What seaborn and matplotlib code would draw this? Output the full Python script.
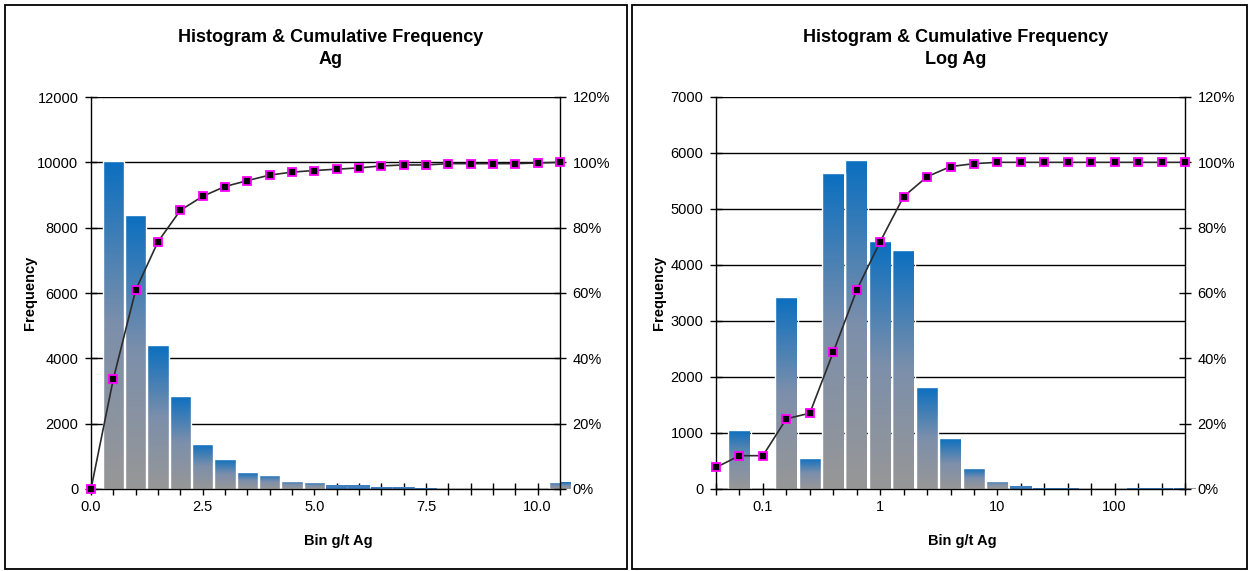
import numpy as np
import matplotlib
matplotlib.use("Agg")
import matplotlib.pyplot as plt
import seaborn as sns
from matplotlib.colors import LinearSegmentedColormap
from matplotlib.patches import Rectangle
from matplotlib.ticker import FixedLocator, NullFormatter

# ---- Ag, linear bins (g/t); the last bin collects everything above 10 ----
ag_bins = [0.0, 0.5, 1.0, 1.5, 2.0, 2.5, 3.0, 3.5, 4.0, 4.5, 5.0,
           5.5, 6.0, 6.5, 7.0, 7.5, 8.0, 8.5, 9.0, 9.5, 10.0, 10.5]
ag_counts = [0, 10050, 8400, 4400, 2850, 1380, 910, 510, 430, 255, 210,
             115, 115, 70, 70, 20, 15, 15, 15, 10, 10, 210]
ag_cum_pct = [0.0, 33.7, 60.9, 75.7, 85.3, 89.6, 92.6, 94.4, 96.1, 97.0, 97.5,
              97.9, 98.3, 98.9, 99.2, 99.2, 99.6, 99.6, 99.6, 99.6, 99.8, 100.0]
ag_tick_values = [0.0, 2.5, 5.0, 7.5, 10.0]
ag_tick_labels = ["0.0", "2.5", "5.0", "7.5", "10.0"]

# ---- Ag, logarithmic bins (g/t) ----
log_bins = [0.0398, 0.0631, 0.1, 0.1585, 0.2512, 0.3981, 0.631, 1.0, 1.585,
            2.512, 3.981, 6.31, 10.0, 15.85, 25.12, 39.81, 63.1, 100.0,
            158.5, 251.2, 398.1]
log_bar_bins = log_bins[1:]
log_counts = [1050, 0, 3430, 550, 5650, 5880, 4420, 4270, 1815, 905,
              370, 150, 45, 20, 20, 0, 0, 20, 20, 20]
log_cum_pct = [6.6, 10.2, 10.2, 21.5, 23.2, 41.9, 60.9, 75.7, 89.5, 95.6,
               98.7, 99.6, 100.0, 100.0, 100.0, 100.0, 100.0, 100.0, 100.0,
               100.0, 100.0]
log_tick_values = [0.1, 1.0, 10.0, 100.0]
log_tick_labels = ["0.1", "1", "10", "100"]

freq_ticks_ag = [0, 2000, 4000, 6000, 8000, 10000, 12000]
freq_ticks_log = [0, 1000, 2000, 3000, 4000, 5000, 6000, 7000]
pct_ticks = [0, 20, 40, 60, 80, 100, 120]

sns.set_theme(style="white")
plt.rcParams["font.family"] = ["Liberation Sans", "DejaVu Sans"]

W, H = 1249, 571
fig = plt.figure(figsize=(W / 100, H / 100), dpi=100)
fig.patch.set_facecolor("white")

bar_cmap = LinearSegmentedColormap.from_list("bar_fade", ["#979797", "#7C8FAB", "#0A6FC0"])
gradient = np.linspace(0, 1, 256).reshape(-1, 1)

TICK_FS = 10.5
LABEL_FS = 10.5
TITLE_FS = 13


def px_axes(x0, x1, y0, y1):
    return fig.add_axes([x0 / W, 1 - y1 / H, (x1 - x0) / W, (y1 - y0) / H])


def shade_bars(ax, ymax, height_px=392):
    for p in list(ax.patches):
        h = p.get_height()
        if h <= 0:
            p.set_visible(False)
            continue
        x0, w = p.get_x(), p.get_width()
        im = ax.imshow(gradient, cmap=bar_cmap, origin="lower", aspect="auto",
                       extent=[x0, x0 + w, 0, h], interpolation="bilinear", zorder=1.5)
        im.set_clip_path(p)
        bar_px = h / ymax * height_px
        if bar_px < 4:
            # very short bars: keep them as a plain blue sliver
            p.set_facecolor("#3F7FBF")
            p.set_linewidth(0)
        else:
            p.set_facecolor("none")
            p.set_edgecolor("white")
            p.set_linewidth(1.0)
        p.set_zorder(1.6)


def style_axes(ax, ax2, yticks, ymax):
    ax.set_ylim(0, ymax)
    ax.set_yticks(yticks)
    ax.set_yticklabels([str(v) for v in yticks])
    ax.set_axisbelow(True)
    ax.yaxis.grid(True, color="black", linewidth=1.0)
    ax.xaxis.grid(False)
    for side in ["top", "right"]:
        ax.spines[side].set_visible(False)
    for side in ["left", "bottom"]:
        ax.spines[side].set_color("black")
        ax.spines[side].set_linewidth(1.0)
    ax.tick_params(axis="both", which="both", direction="inout", length=8, width=1,
                   color="black", labelsize=TICK_FS, labelcolor="black")
    ax.tick_params(axis="y", pad=5)
    ax.tick_params(axis="x", pad=4)
    ax.tick_params(axis="x", which="both", bottom=True)
    ax.tick_params(axis="y", left=True)
    ax.set_xlabel("")
    ax.set_ylabel("")

    ax2.set_ylim(0, 1.2)
    ax2.set_yticks([v / 100 for v in pct_ticks])
    ax2.set_yticklabels([f"{v}%" for v in pct_ticks])
    for side in ["top", "left", "bottom"]:
        ax2.spines[side].set_visible(False)
    ax2.spines["right"].set_visible(True)
    ax2.spines["right"].set_color("black")
    ax2.spines["right"].set_linewidth(1.0)
    ax2.tick_params(axis="y", direction="inout", length=8, width=1, color="black",
                    labelsize=TICK_FS, labelcolor="black", pad=5, right=True)
    ax2.grid(False)
    ax2.set_xlabel("")
    ax2.set_ylabel("")


def cumulative_line(ax2, x, pct):
    sns.lineplot(x=x, y=np.asarray(pct) / 100, ax=ax2, color="#2b2b2b", linewidth=1.2,
                 marker="s", markersize=5.2, markerfacecolor="black",
                 markeredgecolor="#FF00FF", markeredgewidth=1.3, clip_on=False,
                 zorder=5, estimator=None, sort=False)


# ---------------- linear Ag panel ----------------
ax_a = px_axes(91, 560, 97, 489)
sns.histplot(x=ag_bins, weights=ag_counts, binwidth=0.5, binrange=(-0.25, 10.75),
             shrink=0.97, ax=ax_a, color="#0A6FC0", alpha=1, edgecolor="white",
             linewidth=1)
shade_bars(ax_a, 12000)
ax_a.set_xlim(0, 10.5)
ax_a.xaxis.set_major_locator(FixedLocator(ag_tick_values))
ax_a.set_xticklabels(ag_tick_labels)
ax_a.xaxis.set_minor_locator(FixedLocator(ag_bins))
ax_a.xaxis.set_minor_formatter(NullFormatter())
ax_a2 = ax_a.twinx()
cumulative_line(ax_a2, ag_bins, ag_cum_pct)
style_axes(ax_a, ax_a2, freq_ticks_ag, 12000)
ax_a.set_xlim(0, 10.5)
ax_a2.set_xlim(0, 10.5)

# ---------------- log Ag panel ----------------
ax_b = px_axes(716, 1185, 97, 489)
sns.histplot(x=log_bar_bins, weights=log_counts, log_scale=True, binwidth=0.2,
             binrange=(-1.3, 2.7), shrink=0.97, ax=ax_b, color="#0A6FC0", alpha=1,
             edgecolor="white", linewidth=1)
shade_bars(ax_b, 7000)
ax_b.set_xlim(log_bins[0], log_bins[-1])
ax_b.xaxis.set_major_locator(FixedLocator(log_tick_values))
ax_b.set_xticklabels(log_tick_labels)
ax_b.xaxis.set_minor_locator(FixedLocator(log_bins))
ax_b.xaxis.set_minor_formatter(NullFormatter())
ax_b2 = ax_b.twinx()
cumulative_line(ax_b2, log_bins, log_cum_pct)
style_axes(ax_b, ax_b2, freq_ticks_log, 7000)
ax_b.set_xlim(log_bins[0], log_bins[-1])

# ---------------- panel frames and texts ----------------
for x0, x1 in [(5, 627), (632, 1247)]:
    fig.add_artist(Rectangle((x0 / W, 1 - 569 / H), (x1 - x0) / W, 564 / H,
                             transform=fig.transFigure, fill=False,
                             edgecolor="black", linewidth=1.3))

for cx, sub, lx, bx in [(331, "Ag", 30, 338), (956, "Log Ag", 659, 962)]:
    fig.text(cx / W, 1 - 38 / H, "Histogram & Cumulative Frequency", ha="center",
             va="center", fontsize=TITLE_FS, fontweight="bold", color="black")
    fig.text(cx / W, 1 - 59 / H, sub, ha="center", va="center",
             fontsize=TITLE_FS, fontweight="bold", color="black")
    fig.text(lx / W, 1 - 293 / H, "Frequency", rotation=90, ha="center", va="center",
             fontsize=LABEL_FS, fontweight="bold", color="black")
    fig.text(bx / W, 1 - 541 / H, "Bin g/t Ag", ha="center", va="center",
             fontsize=LABEL_FS, fontweight="bold", color="black")

fig.savefig("out.png", dpi=100, facecolor="white")
